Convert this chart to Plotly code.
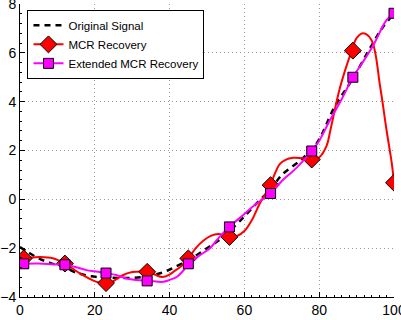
import plotly.graph_objects as go

# Original signal
orig_x = [0, 2, 5, 8, 12, 15, 19, 23, 26, 30, 34, 37, 40, 43, 46, 50, 53, 56, 60, 64, 67, 70, 75, 78, 80, 84, 89, 94, 97, 100]
orig_y = [-1.95, -2.15, -2.42, -2.6, -2.8, -3.0, -3.15, -3.2, -3.22, -3.22, -3.15, -3.05, -2.88, -2.65, -2.4, -2.0, -1.7, -1.3,
          -0.7, -0.05, 0.4, 1.0, 1.6, 2.05, 2.45, 3.75, 4.95, 6.3, 7.05, 7.6]

# Sample locations
samp_x = [1, 12, 23, 34, 45, 56, 67, 78, 89, 100]
mcr_samp = [-2.42, -2.63, -3.43, -2.97, -2.42, -1.54, 0.58, 1.63, 6.09, 0.68]
ext_samp = [-2.64, -2.68, -3.02, -3.34, -2.64, -1.13, 0.24, 1.98, 5.0, 7.62]

# MCR recovery curve
mcr_x = [1, 3, 5.3, 8.8, 12, 16, 20.5, 23, 24, 26, 27.6, 30, 33, 34, 36, 38, 40, 41, 43, 45, 47, 49, 51, 53, 55, 56,
         58, 60, 62, 64, 65.5, 67, 68, 69.5, 71, 73, 76, 78, 80, 82, 83, 85.6, 88.7, 90, 91.8, 94, 96.3, 98, 99.4, 100]
mcr_y = [-2.42, -2.38, -2.36, -2.41, -2.63, -3.03, -3.38, -3.43, -3.43, -3.25, -3.1, -2.98, -2.96, -2.97, -3.08, -3.18,
         -3.08, -2.97, -2.75, -2.42, -2.0, -1.7, -1.5, -1.42, -1.5, -1.54, -1.5, -1.3, -0.85, -0.2, 0.2, 0.58, 1.0, 1.45,
         1.62, 1.7, 1.68, 1.63, 1.72, 2.2, 2.84, 4.6, 6.09, 6.6, 6.8, 6.52, 4.61, 2.84, 1.48, 0.68]

# Extended MCR recovery curve
ext_x = [1, 5, 8.8, 12, 15, 17.8, 20, 23, 25.7, 28.5, 31, 34.5, 38.3, 40, 41.9, 43.5, 45, 48, 50.8, 53, 56, 60, 63, 67,
         70, 74, 78, 80, 82.9, 86, 89, 92, 94.5, 98, 100]
ext_y = [-2.64, -2.63, -2.66, -2.68, -2.78, -2.9, -2.95, -3.02, -3.1, -3.24, -3.3, -3.34, -3.38, -3.3, -3.18, -2.95, -2.65,
         -2.3, -2.0, -1.6, -1.13, -0.6, -0.2, 0.24, 0.75, 1.3, 1.98, 2.4, 3.25, 4.1, 5.0, 5.7, 6.32, 7.34, 7.62]

x_ticks = [0, 20, 40, 60, 80, 100]
y_ticks = [-4, -2, 0, 2, 4, 6, 8]
y_labels = ["\u22124", "\u22122", "0", "2", "4", "6", "8"]

RED = "#ff0000"
MAG = "#ff00ff"

fig = go.Figure()
fig.add_trace(go.Scatter(x=orig_x, y=orig_y, mode="lines", name="Original Signal",
                         line=dict(color="black", width=2.5, dash="6px,5px", shape="spline")))
fig.add_trace(go.Scatter(x=mcr_x, y=mcr_y, mode="lines", showlegend=False,
                         line=dict(color=RED, width=2, shape="spline")))
fig.add_trace(go.Scatter(x=samp_x, y=mcr_samp, mode="markers", showlegend=False,
                         marker=dict(symbol="diamond", size=13, color=RED, line=dict(color="black", width=1))))
fig.add_trace(go.Scatter(x=[None], y=[None], mode="lines+markers", name="MCR Recovery",
                         line=dict(color=RED, width=2),
                         marker=dict(symbol="diamond", size=13, color=RED, line=dict(color="black", width=1))))
fig.add_trace(go.Scatter(x=ext_x, y=ext_y, mode="lines", showlegend=False,
                         line=dict(color=MAG, width=2, shape="spline")))
fig.add_trace(go.Scatter(x=samp_x, y=ext_samp, mode="markers", showlegend=False,
                         marker=dict(symbol="square", size=10, color=MAG, line=dict(color="black", width=1))))
fig.add_trace(go.Scatter(x=[None], y=[None], mode="lines+markers", name="Extended MCR Recovery",
                         line=dict(color=MAG, width=2),
                         marker=dict(symbol="square", size=10, color=MAG, line=dict(color="black", width=1))))

axis_common = dict(showline=True, linecolor="black", linewidth=1, showgrid=True, gridcolor="#9a9a9a",
                   griddash="1px,3px", gridwidth=1, zeroline=False, ticks="inside", ticklen=5, tickcolor="black",
                   automargin=False, ticklabeloverflow="allow",
                   tickfont=dict(family="Liberation Sans, Arial, sans-serif", size=14, color="black"))

fig.update_xaxes(range=[0, 100], tickvals=x_ticks, ticktext=[str(v) for v in x_ticks],
                 minor=dict(ticks="inside", ticklen=2, dtick=2, tickcolor="black", showgrid=False), **axis_common)
fig.update_yaxes(range=[-4, 8], tickvals=y_ticks, ticktext=y_labels,
                 minor=dict(ticks="inside", ticklen=2, dtick=0.4, tickcolor="black", showgrid=False), **axis_common)

fig.update_layout(
    width=401, height=320,
    margin=dict(l=20, r=7, t=4, b=23, autoexpand=False),
    plot_bgcolor="white", paper_bgcolor="white",
    font=dict(family="Liberation Sans, Arial, sans-serif", size=12, color="black"),
    legend=dict(x=0.02, y=0.98, xanchor="left", yanchor="top", bgcolor="white",
                bordercolor="black", borderwidth=1, font=dict(size=11.5),
                tracegroupgap=0, itemwidth=30),
    showlegend=True,
)

fig.write_html("out.html", config={"displayModeBar": False},
               post_script="document.body.style.margin='0';document.body.style.overflow='hidden';")
